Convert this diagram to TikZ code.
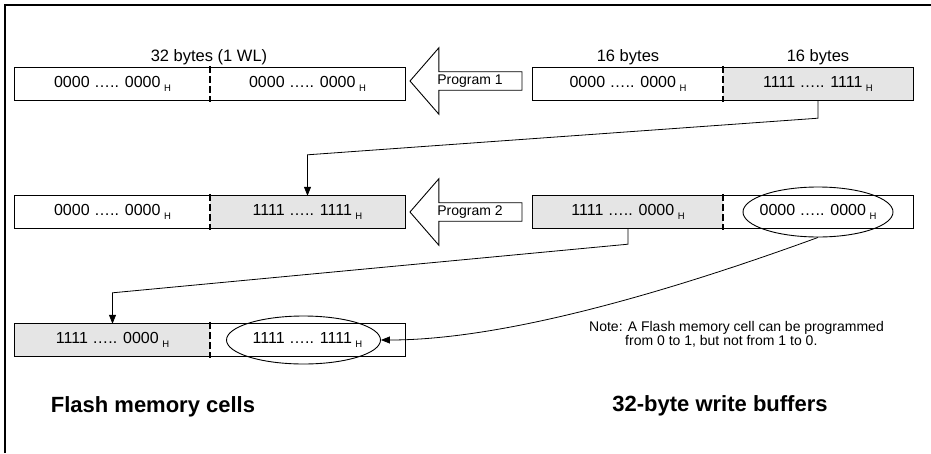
\documentclass[tikz,border=0pt]{standalone}
\usepackage{fontspec}
\setmainfont{Liberation Sans}
\usetikzlibrary{arrows.meta,shapes.geometric,shapes.arrows}

\newcommand{\subH}{\hspace{3.5pt}\raisebox{-3.5pt}{\fontsize{9.5}{9.5}\selectfont H}}

\begin{document}
\begin{tikzpicture}
[x=1pt,y=-1pt,
  cellDecorate/.style={shape=rectangle,inner sep=0pt,minimum width=#1,
    minimum height=32pt,font=\fontsize{16}{16}\selectfont},
  boxDecorate/.style={draw,line width=0.9pt},
  dividerDecorate/.style={draw,line width=1.8pt,dash pattern=on 7pt off 3pt},
  ringDecorate/.style={shape=ellipse,draw,line width=0.9pt,inner sep=0pt},
  progDecorate/.style={single arrow,draw,line width=0.9pt,shape border rotate=180,
    minimum height=112pt,single arrow head extend=24pt,single arrow tip angle=98,
    inner sep=2.5pt,font=\fontsize{14}{14}\selectfont},
  lineDecorate/.style={line width=0.8pt,-{Triangle[length=9pt,width=7pt]}},
  labelDecorate/.style={inner sep=0pt,font=\fontsize{16.5}{16.5}\selectfont},
  titleDecorate/.style={inner sep=0pt,font=\fontsize{22}{22}\selectfont\bfseries}]
\useasboundingbox (0,0) rectangle (931,453);
%% frame
\draw[line width=1.3pt] (5,453) -- (5,5) -- (931,5);
%% memory cells and write buffers
\foreach \nodename/\x/\y/\w/\tone/\txt in {
  c1a/112.5/84/195/white/0000 ….. 0000, c1b/307.5/84/195/white/0000 ….. 0000,
  b1a/628/84/190/white/0000 ….. 0000, b1b/818/84/190/black!10/1111 ….. 1111,
  c2a/112.5/212/195/white/0000 ….. 0000, c2b/307.5/212/195/black!10/1111 ….. 1111,
  b2a/628/212/190/black!10/1111 ….. 0000, b2b/818/212/190/white/0000 ….. 0000,
  c3a/112.5/340/195/black!10/1111 ….. 0000, c3b/307.5/340/195/white/1111 ….. 1111}
{
  \node (\nodename) at (\x,\y) [cellDecorate=\w pt,fill=\tone] {\txt\subH};
}
\foreach \lnode/\rnode in {c1a/c1b, b1a/b1b, c2a/c2b, b2a/b2b, c3a/c3b}
{
  \draw[boxDecorate] (\lnode.north west) rectangle (\rnode.south east);
  \draw[dividerDecorate] ([yshift=2pt]\lnode.north east) -- ([yshift=-2pt]\lnode.south east);
}
%% rings
\node (r2) at (b2b) [ringDecorate,minimum width=150pt,minimum height=50pt] {};
\node (r3) at ([xshift=-4pt]c3b.center) [ringDecorate,minimum width=154pt,minimum height=48pt] {};
%% program arrows
\foreach \nodename/\y/\txt in {p1/81/Program 1, p2/212/Program 2}
{
  \node (\nodename) at (470,\y) [progDecorate] {\txt};
}
%% labels
\node (w1) at (209,57) [labelDecorate] {32 bytes (1 WL)};
\node (w2) at (628,57) [labelDecorate] {16 bytes};
\node (w3) at (818,57) [labelDecorate] {16 bytes};
\node (t1) at (153,407) [titleDecorate] {Flash memory cells};
\node (t2) at (720,406) [titleDecorate] {32-byte write buffers};
\node (note) at (589,321) [anchor=north west,inner sep=0pt,align=left,
  font=\fontsize{14}{14.5}\selectfont]
  {Note: A Flash memory cell can be programmed\\\hspace{36pt}from 0 to 1, but not from 1 to 0.};
%% connectors
\draw[lineDecorate] (b1b.south) -- ++(0,18) -- ([yshift=41pt]c2b.north) -- (c2b.north);
\draw[lineDecorate] (b2a.south) -- ++(0,16) -- ([yshift=31pt]c3a.north) -- (c3a.north);
\draw[lineDecorate] (r2.south) .. controls +(-118,43) and +(136,0) .. (r3.east);
\end{tikzpicture}
\end{document}
